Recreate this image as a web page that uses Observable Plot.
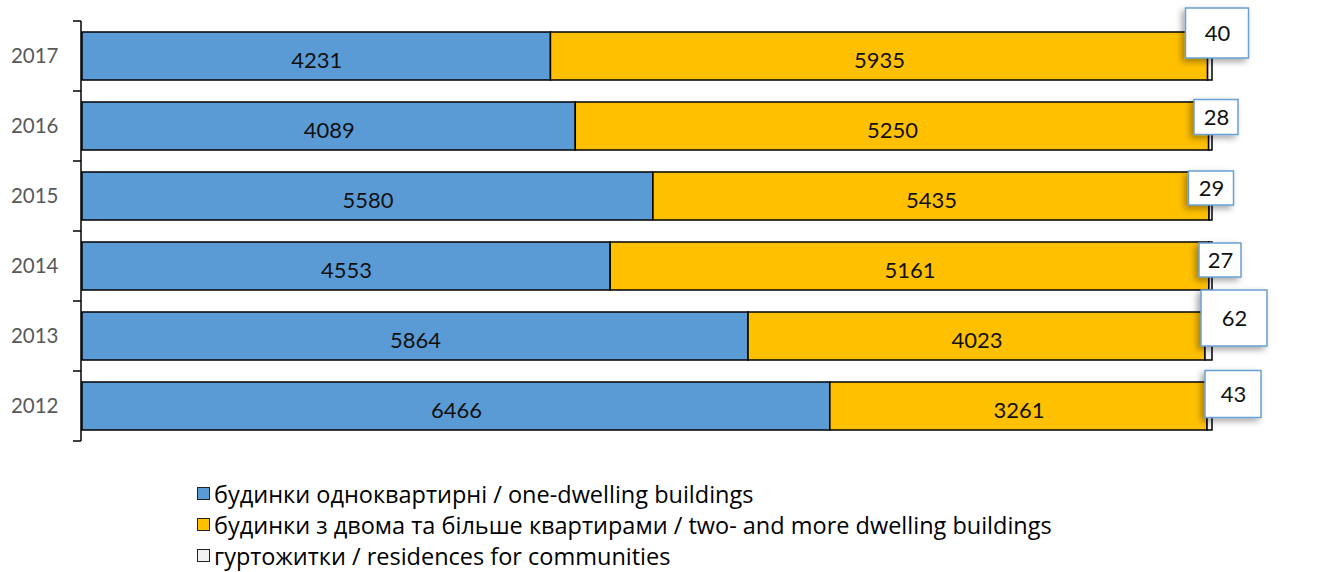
<!DOCTYPE html>
<html><head><meta charset="utf-8">
<script src="https://cdn.jsdelivr.net/npm/d3@7"></script>
<script src="https://cdn.jsdelivr.net/npm/@observablehq/plot@0.6"></script>
<style>
body{margin:0;background:#fff;font-family:Lato,"Open Sans",sans-serif;}
#chart svg{display:block;}
#legend{margin-left:197px;margin-top:18px;font-family:"Open Sans",Lato,sans-serif;}
.item{display:flex;align-items:center;height:31px;font-size:20px;color:#000;white-space:nowrap;}
.sw{width:13px;height:13px;box-sizing:border-box;border:1.5px solid #222;margin-right:4px;flex:none;}
</style></head><body>
<div id="chart"></div>
<div id="legend"></div>
<script>
// ---- data ----
const years = ["2017", "2016", "2015", "2014", "2013", "2012"];
const oneDwelling = [4231, 4089, 5580, 4553, 5864, 6466];
const multiDwelling = [5935, 5250, 5435, 5161, 4023, 3261];
const residences = [40, 28, 29, 27, 62, 43];
const seriesNames = [
  "будинки одноквартирні / one-dwelling buildings",
  "будинки з двома та більше квартирами / two- and more dwelling buildings",
  "гуртожитки / residences for communities"
];

// ---- styles ----
const colors = ["#5b9bd5", "#ffc000", "#f2f2f2"];
// callout box placement (offset from bar end, box size) per year
const calloutStyle = {
  "2017": [5, -23, 63, 50], "2016": [4, -9, 44, 35], "2015": [-1, -8, 45, 34],
  "2014": [8, -6, 42, 34], "2013": [22, -18, 66, 56], "2012": [21, -12, 56, 47]
};

const data = [];
years.forEach((y, i) => {
  data.push({year: y, series: seriesNames[0], value: oneDwelling[i]});
  data.push({year: y, series: seriesNames[1], value: multiDwelling[i]});
  data.push({year: y, series: seriesNames[2], value: residences[i]});
});

const stackOpts = {x: "value", y: "year", z: "series", order: seriesNames, offset: "normalize"};
const label = d => String(d.value);

const chart = Plot.plot({
  width: 1333, height: 460,
  marginLeft: 82, marginRight: 121, marginTop: 21, marginBottom: 18,
  style: {fontFamily: "Lato, 'Open Sans', sans-serif", background: "white"},
  x: {domain: [0, 1], axis: null},
  y: {domain: years, paddingInner: 0.31, paddingOuter: 0.155, label: null},
  color: {domain: seriesNames, range: colors},
  marks: [
    Plot.axisY({tickSize: 0, tickPadding: 24, fontSize: 20.5, fill: "#595959", label: null}),
    Plot.barX(data, Plot.stackX({...stackOpts, fill: "series", stroke: "#000", strokeWidth: 1.5})),
    Plot.text(data, Plot.filter(d => d.series !== seriesNames[2],
      Plot.stackX({...stackOpts, text: label, fontSize: 22, fill: "#111", dy: 4}))),
    Plot.text(data, Plot.filter(d => d.series === seriesNames[2],
      Plot.stackX2({...stackOpts, text: label, fontSize: 22, fill: "#111", className: "callout"})))
  ]
});
document.getElementById("chart").append(chart);

// ---- axis line and boundary ticks (from Plot's y scale) ----
const xS = chart.scale("x"), yS = chart.scale("y");
const svg = d3.select(chart);
const half = (yS.step - yS.bandwidth) / 2;
const bounds = years.map(y => yS.apply(y) - half);
bounds.push(yS.apply(years[years.length - 1]) + yS.bandwidth + half);
const x0 = xS.apply(0) - 1;
const ax = svg.append("g").attr("stroke", "#000").attr("stroke-width", 1.5);
ax.append("line").attr("x1", x0).attr("x2", x0).attr("y1", bounds[0]).attr("y2", bounds[bounds.length - 1]);
bounds.forEach(b => ax.append("line").attr("x1", x0 - 8).attr("x2", x0).attr("y1", b).attr("y2", b));

// ---- callout boxes ----
const defs = svg.insert("defs", ":first-child");
const f = defs.append("filter").attr("id", "shadow").attr("x", "-30%").attr("y", "-30%").attr("width", "160%").attr("height", "160%");
f.append("feDropShadow").attr("dx", -3).attr("dy", 3).attr("stdDeviation", 3).attr("flood-color", "#000").attr("flood-opacity", 0.35);
const calloutG = svg.select("g.callout");
const boxG = svg.insert("g", "g.callout");
calloutG.selectAll("text").each(function(i) {
  const d = data[i];
  const [dx, dy, w, h] = calloutStyle[d.year];
  const cx = xS.apply(1) + dx;
  const cy = yS.apply(d.year) + yS.bandwidth / 2 + dy;
  boxG.append("rect").attr("x", cx - w / 2).attr("y", cy - h / 2).attr("width", w).attr("height", h)
    .attr("fill", "#fff").attr("stroke", "#6a9fd3").attr("stroke-width", 1.5).attr("filter", "url(#shadow)");
  const t = d3.select(this);
  t.attr("transform", (t.attr("transform") || "") + ` translate(${dx},${dy})`);
});
svg.node().appendChild(calloutG.node());

// ---- legend ----
const leg = d3.select("#legend");
const spans = seriesNames.map((s, i) => {
  const it = leg.append("div").attr("class", "item");
  it.append("div").attr("class", "sw").style("background", colors[i]);
  return it.append("span").text(s);
});
// fit legend text width to the reference (longest line ≈ 838px)
const w = spans[1].node().getBoundingClientRect().width;
const fs = 20 * 838 / w;
leg.selectAll(".item").style("font-size", fs + "px");
</script>
</body></html>
